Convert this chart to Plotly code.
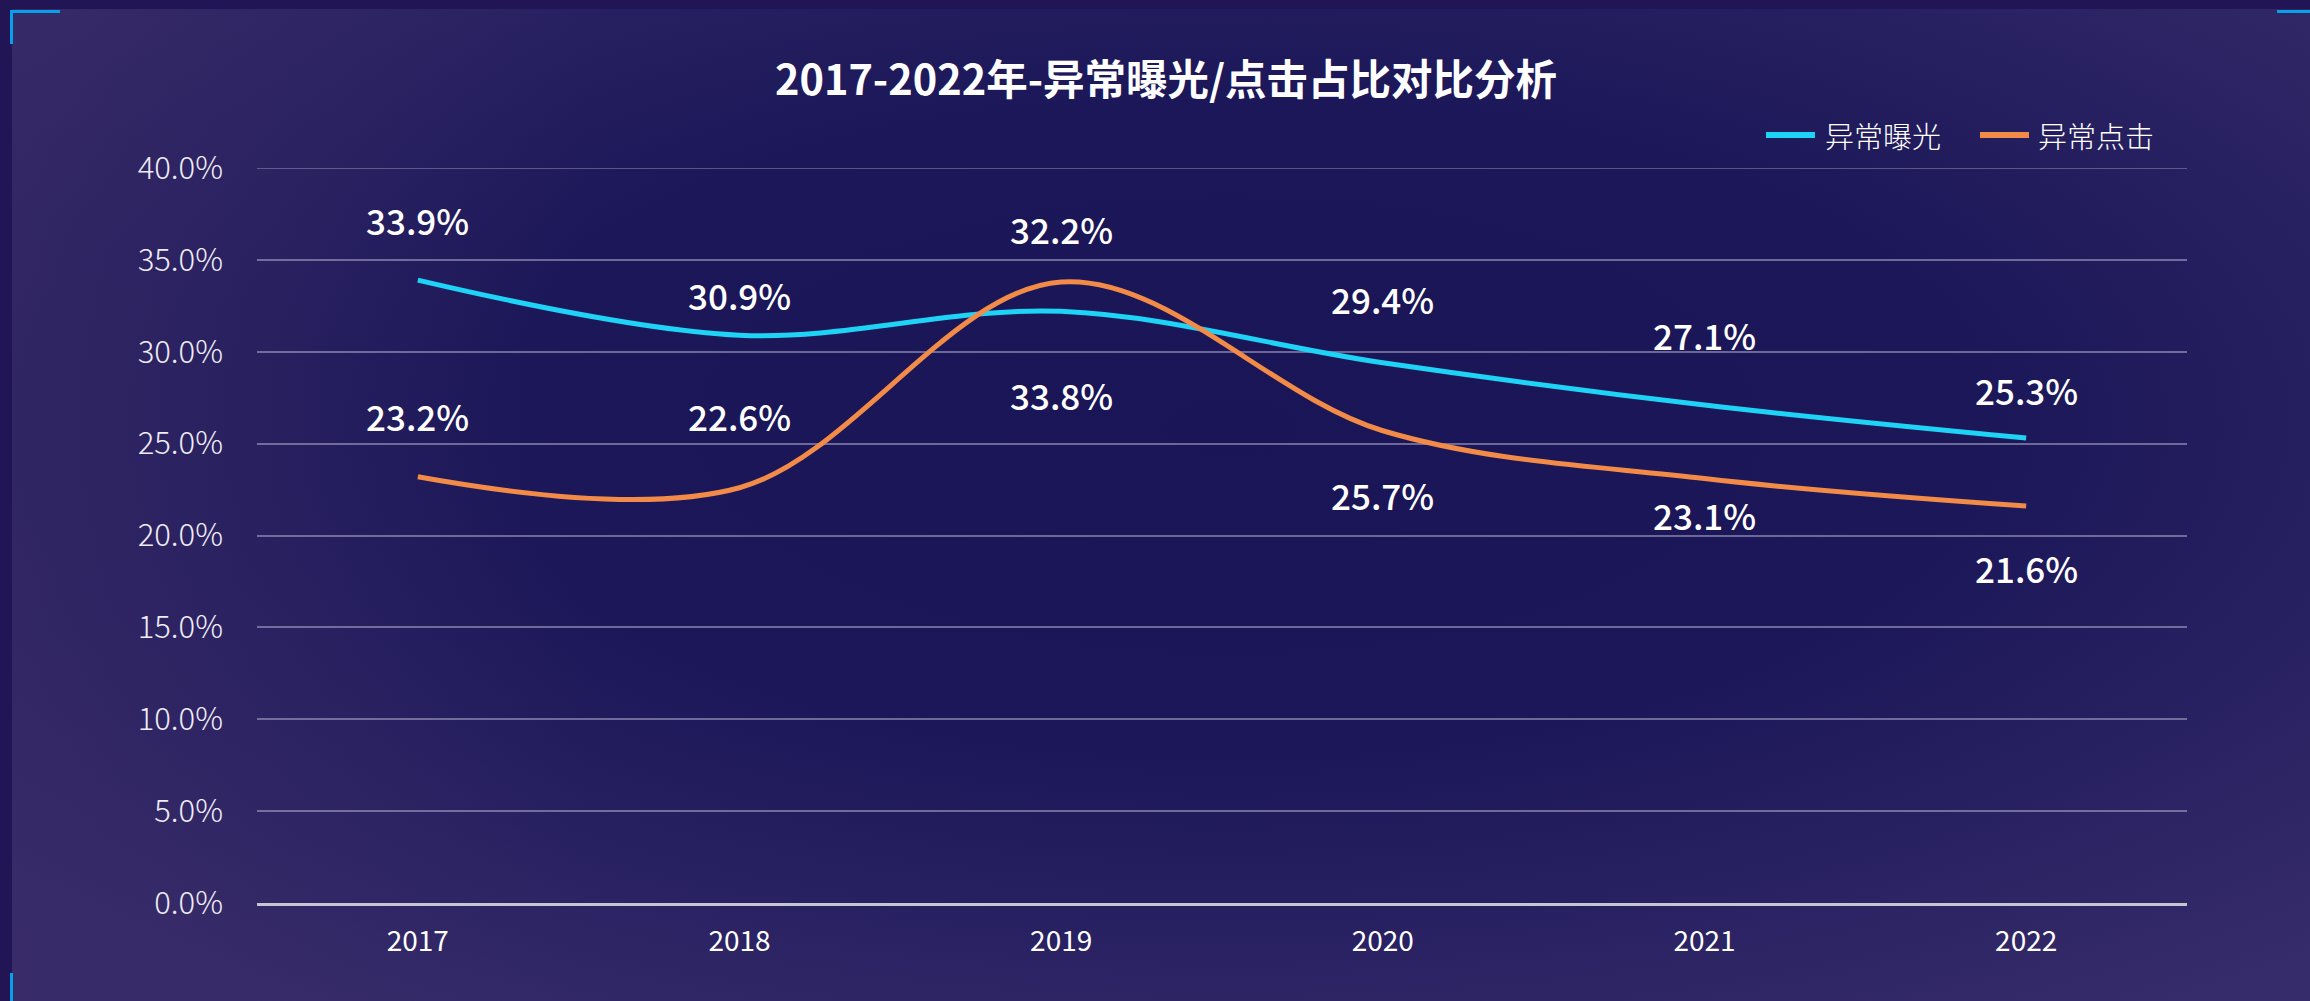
import base64
import plotly.graph_objects as go

# ---------------- data ----------------
years = ["2017", "2018", "2019", "2020", "2021", "2022"]
exposure = [33.9, 30.9, 32.2, 29.4, 27.1, 25.3]   # 异常曝光 (%)
clicks = [23.2, 22.6, 33.8, 25.7, 23.1, 21.6]     # 异常点击 (%)
series_names = ["异常曝光", "异常点击"]
title_text = "2017-2022年-异常曝光/点击占比对比分析"
y_ticks = [0, 5, 10, 15, 20, 25, 30, 35, 40]

# label offsets in pixels (style, not data)
exp_label_shift = [61, 41, 83, 64, 71, 49]
clk_label_shift = [61, 72, -113, -64, -36, -61]

# ---------------- style ----------------
W, H = 2310, 1001
L, R, T, B = 257, 2310 - 2187, 168, 98
PW, PH = W - L - R, H - T - B
CYAN = "#1fd3f6"
ORANGE = "#f28a48"
GRID = "rgba(190,185,215,0.5)"
FONT = "Noto Sans CJK SC, Microsoft YaHei, sans-serif"


def px(xpix):
    return (xpix - L) / PW


def py(ypix):
    return (H - B - ypix) / PH


svg = (
    "<svg xmlns='http://www.w3.org/2000/svg' width='2298' height='992' "
    "viewBox='0 0 2298 992' preserveAspectRatio='none'>"
    "<defs><radialGradient id='g' cx='0.53' cy='0.42' r='0.72' gradientUnits='objectBoundingBox'>"
    "<stop offset='0' stop-color='#1a1556'/>"
    "<stop offset='0.45' stop-color='#1b1758'/>"
    "<stop offset='1' stop-color='#372c6b'/>"
    "</radialGradient>"
    "<linearGradient id='h' x1='0' y1='0' x2='1' y2='0'>"
    "<stop offset='0' stop-color='#3a2a66' stop-opacity='0.45'/>"
    "<stop offset='0.25' stop-color='#3a2a66' stop-opacity='0'/>"
    "</linearGradient></defs>"
    "<rect width='2298' height='992' fill='url(#g)'/>"
    "<rect width='2298' height='992' fill='url(#h)'/>"
    "</svg>"
)
bg_src = "data:image/svg+xml;base64," + base64.b64encode(svg.encode()).decode()

fig = go.Figure()
fig.add_trace(go.Scatter(
    x=years, y=exposure, name=series_names[0], mode="lines",
    line=dict(color=CYAN, width=5, shape="spline", smoothing=1.0),
    showlegend=False,
))
fig.add_trace(go.Scatter(
    x=years, y=clicks, name=series_names[1], mode="lines",
    line=dict(color=ORANGE, width=5, shape="spline", smoothing=1.0),
    showlegend=False,
))

annotations = []
for i, (v, s) in enumerate(zip(exposure, exp_label_shift)):
    annotations.append(dict(x=i, y=v, xref="x", yref="y", text=f"{v:.1f}%",
                            showarrow=False, yshift=s,
                            font=dict(family=FONT, size=35, color="#ffffff", weight=500)))
for i, (v, s) in enumerate(zip(clicks, clk_label_shift)):
    annotations.append(dict(x=i, y=v, xref="x", yref="y", text=f"{v:.1f}%",
                            showarrow=False, yshift=s,
                            font=dict(family=FONT, size=35, color="#ffffff", weight=500)))

# custom legend
leg_y = 135
legend_items = [(1763, 1818, 1823, CYAN, series_names[0]),
                (1977, 2032, 2036, ORANGE, series_names[1])]
shapes = []
for x0, x1, tx, col, name in legend_items:
    shapes.append(dict(type="line", xref="paper", yref="paper",
                       x0=px(x0 + 3), x1=px(x1 - 3), y0=py(leg_y), y1=py(leg_y),
                       line=dict(color=col, width=6)))
    annotations.append(dict(xref="paper", yref="paper", x=px(tx), y=py(leg_y),
                            xanchor="left", yanchor="middle", text=name, showarrow=False,
                            font=dict(family=FONT, size=29, color="#ffffff", weight=300)))

# top gridline (at range edge)
shapes.append(dict(type="line", xref="paper", yref="y", x0=0, x1=1,
                   y0=y_ticks[-1], y1=y_ticks[-1], layer="below",
                   line=dict(color=GRID, width=1.5)))

# corner marks
BLUE = "#0a9fe9"
corner = [
    (10, 11.5, 60, 11.5), (11.5, 10, 11.5, 44),          # top-left
    (2277, 11.5, 2312, 11.5),                           # top-right
    (11.5, 973, 11.5, 1003),                            # bottom-left
]
for x0, y0, x1, y1 in corner:
    shapes.append(dict(type="line", xref="paper", yref="paper",
                       x0=px(x0), y0=py(y0), x1=px(x1), y1=py(y1),
                       line=dict(color=BLUE, width=3)))

fig.update_layout(
    width=W, height=H,
    margin=dict(l=L, r=R, t=T, b=B, pad=0),
    paper_bgcolor="#221556",
    plot_bgcolor="rgba(0,0,0,0)",
    images=[dict(source=bg_src, xref="paper", yref="paper",
                 x=px(12), y=py(9), sizex=(W - 12) / PW, sizey=(H - 9) / PH,
                 xanchor="left", yanchor="top", sizing="stretch", layer="below")],
    title=dict(text=title_text, x=1166 / W, xanchor="center",
               y=1 - 80 / H, yanchor="middle",
               font=dict(family=FONT, size=41.5, color="#ffffff", weight="bold")),
    xaxis=dict(
        type="category", range=[-0.5, 5.5],
        showgrid=False, zeroline=False,
        showline=True, linecolor="#c6c6d2", linewidth=2.5,
        ticks="", ticklabelstandoff=12,
        tickfont=dict(family=FONT, size=28, color="#ffffff"),
    ),
    yaxis=dict(
        range=[0, 40], tickvals=y_ticks,
        ticktext=[f"{t:.1f}%" for t in y_ticks],
        showgrid=True, gridcolor=GRID, gridwidth=1.5,
        zeroline=False, showline=False, ticks="", ticklabelstandoff=33,
        tickfont=dict(family=FONT, size=31, color="#eeecf5", weight=300),
    ),
    shapes=shapes,
    annotations=annotations,
    showlegend=False,
)

fig.write_html("out.html", config={"displayModeBar": False},
               post_script="document.body.style.margin='0';document.body.style.overflow='hidden';")
